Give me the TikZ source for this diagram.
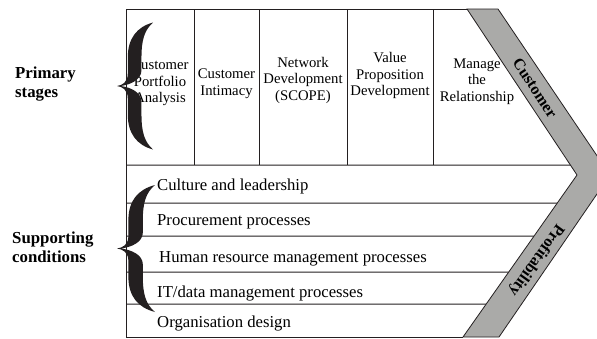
\documentclass[tikz,border=0pt]{standalone}
\usepackage{fontspec}
\setmainfont{Liberation Serif}
\definecolor{bandgray}{RGB}{170,170,168}
\definecolor{inkblack}{RGB}{35,31,32}
\tikzset{
  frameline/.style={draw=inkblack, line width=1pt},
  stagetext/.style={align=center, inner sep=0pt, font=\fontsize{14.7}{16.5}\selectfont},
  rowtext/.style={anchor=base west, inner sep=0pt, font=\fontsize{16.7}{19}\selectfont},
  sidelabel/.style={align=left, anchor=west, inner sep=0pt, font=\fontsize{16.8}{19}\selectfont\bfseries},
  bandtext/.style={inner sep=0pt, font=\fontsize{16}{18}\selectfont\bfseries},
  bigbrace/.pic={
    \fill[inkblack] (1,-1) .. controls (0.55,-0.93) and (0.3,-0.75) .. (0.3,-0.45)
      -- (0.3,-0.2) .. controls (0.3,-0.06) and (0.15,-0.01) .. (0,0)
      .. controls (0.15,0.01) and (0.3,0.06) .. (0.3,0.2)
      -- (0.3,0.45) .. controls (0.3,0.75) and (0.55,0.93) .. (1,1)
      .. controls (0.76,0.88) and (0.68,0.72) .. (0.68,0.45)
      -- (0.68,0.25) .. controls (0.68,0.1) and (0.38,0.02) .. (0.1,0)
      .. controls (0.38,-0.02) and (0.68,-0.1) .. (0.68,-0.25)
      -- (0.68,-0.45) .. controls (0.68,-0.72) and (0.76,-0.88) .. (1,-1) -- cycle;
  }
}
\begin{document}
\begin{tikzpicture}[x=1pt,y=-1pt]
\useasboundingbox (0,0) rectangle (597,338);
\clip (0,0) rectangle (597,338);
% corners of the frame and the chevron
\coordinate (tl) at (126,9);
\coordinate (bl) at (126,337);
\coordinate (tin) at (467,9);
\coordinate (tout) at (498,9);
\coordinate (apex) at (577,175);
\coordinate (apexout) at (610,175);
\coordinate (bin) at (463,337);
\coordinate (bout) at (499,337);

\draw[frameline] (tin) -- (tl) -- (bl) -- (bin);
\draw[frameline] (126,165) -- (intersection of tin--apex and 0,165--600,165);
\foreach \y in {203,236,272,304}
    { \draw[frameline] (126,\y) -- (intersection of apex--bin and 0,\y--600,\y); }
\foreach \x in {194,259,347,433}
    { \draw[frameline] (\x,9) -- (\x,165); }
\filldraw[fill=bandgray, draw=inkblack, line width=0.8pt]
    (tin) -- (tout) -- (apexout) -- (bout) -- (bin) -- (apex) -- cycle;

\node[bandtext, rotate=-56.5] (band-customer) at (535,88) {Customer};
\node[bandtext, rotate=-125.6] (band-profit) at (536,260) {Profitability};

% primary stages
\node[stagetext] (st-portfolio) at (160,83) {Customer\\Portfolio\\Analysis};
\node[stagetext] (st-intimacy) at (226.5,83.6) {Customer\\Intimacy};
\node[stagetext] (st-network) at (303,80) {Network\\Development\\(SCOPE)};
\node[stagetext] (st-value) at (390,75.6) {Value\\Proposition\\Development};
\node[stagetext] (st-manage) at (477,81.6) {Manage\\the\\Relationship};

% supporting conditions
\node[rowtext] (sc-culture) at (157,190) {Culture and leadership};
\node[rowtext] (sc-procure) at (157,225) {Procurement processes};
\node[rowtext] (sc-human) at (159,262) {Human resource management processes};
\node[rowtext] (sc-data) at (157,297) {IT/data management processes};
\node[rowtext] (sc-design) at (157,327) {Organisation design};

\node[sidelabel] (lbl-primary) at (15,84) {Primary\\stages};
\node[sidelabel] (lbl-support) at (12,247) {Supporting\\conditions};

\pic[xscale=36, yscale=63.5] at (117,86) {bigbrace};
\pic[xscale=38, yscale=63.5] at (117,248.5) {bigbrace};
\end{tikzpicture}
\end{document}
